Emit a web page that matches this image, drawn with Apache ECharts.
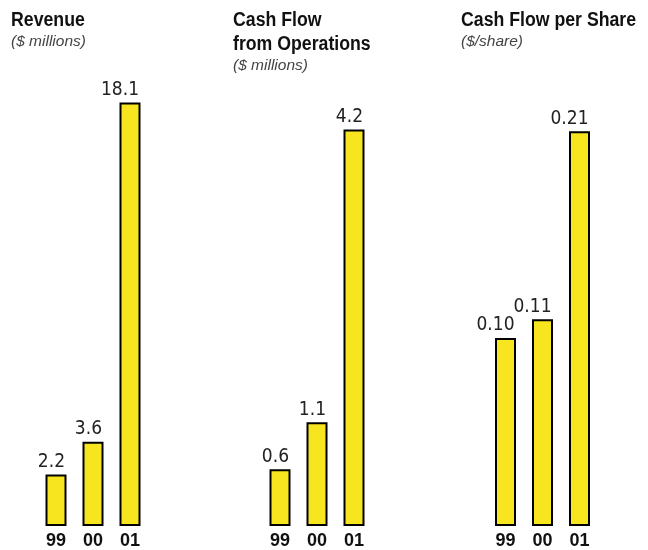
<!DOCTYPE html>
<html><head><meta charset="utf-8">
<script src="https://cdn.jsdelivr.net/npm/echarts@6/dist/echarts.min.js"></script>
<style>html,body{margin:0;padding:0;background:#fff}#c{width:648px;height:550px}</style>
</head><body><div id="c"></div>
<script>
const years = ['99', '00', '01'];
const revenue = [2.2, 3.6, 18.1];
const revenueLabels = ['2.2', '3.6', '18.1'];
const cashFlow = [0.6, 1.1, 4.2];
const cashFlowLabels = ['0.6', '1.1', '4.2'];
const cfps = [0.10, 0.11, 0.21];
const cfpsLabels = ['0.10', '0.11', '0.21'];
const titleLines = [['Revenue'], ['Cash Flow', 'from Operations'], ['Cash Flow per Share']];
const subtitles = ['($ millions)', '($ millions)', '($/share)'];

const chart = echarts.init(document.getElementById('c'));
const panels = [
  {left: 37.5, top: 58, max: 20, data: revenue, labels: revenueLabels, tx: 11},
  {left: 261.5, top: 54, max: 5, data: cashFlow, labels: cashFlowLabels, tx: 233},
  {left: 487, top: 56, max: 0.25, data: cfps, labels: cfpsLabels, tx: 461}
];
const graphics = [];
panels.forEach((p, i) => {
  titleLines[i].forEach((t, j) => {
    graphics.push({
      type: 'text', x: p.tx, y: 20.5 + j * 24, scaleX: 0.885, scaleY: 1,
      style: {text: t, fontFamily: "'Liberation Sans', Arial, sans-serif", fontWeight: 'bold',
        fontSize: 20, fill: '#111', verticalAlign: 'middle', align: 'left'}
    });
  });
  graphics.push({
    type: 'text', x: p.tx, y: 41.5 + (titleLines[i].length - 1) * 24,
    style: {text: subtitles[i], fontFamily: "'Liberation Sans', Arial, sans-serif", fontStyle: 'italic',
      fontSize: 15.5, fill: '#444', verticalAlign: 'middle', align: 'left'}
  });
});
const option = {
  animation: false,
  graphic: graphics,
  grid: panels.map(p => ({left: p.left, top: p.top, width: 111, bottom: 24, outerBoundsMode: 'none', containLabel: false})),
  xAxis: panels.map((p, i) => ({
    type: 'category', gridIndex: i, data: years,
    axisLine: {show: false}, axisTick: {show: false},
    axisLabel: {fontFamily: "'Liberation Sans', Arial, sans-serif", fontWeight: 'bold', fontSize: 18, color: '#111', margin: 6}
  })),
  yAxis: panels.map((p, i) => ({
    type: 'value', gridIndex: i, min: 0, max: p.max, show: false, splitLine: {show: false}
  })),
  series: panels.map((p, i) => ({
    type: 'bar', xAxisIndex: i, yAxisIndex: i, data: p.data, barWidth: 21,
    itemStyle: {color: '#f7e61f', borderColor: '#000', borderWidth: 2},
    label: {show: true, position: 'top', distance: 3, align: 'right', offset: [9, 0],
      fontFamily: "'DejaVu Sans Condensed', 'DejaVu Sans', sans-serif",
      fontSize: 19, color: '#222', formatter: (d) => p.labels[d.dataIndex]}
  }))
};
chart.setOption(option);
</script></body></html>
